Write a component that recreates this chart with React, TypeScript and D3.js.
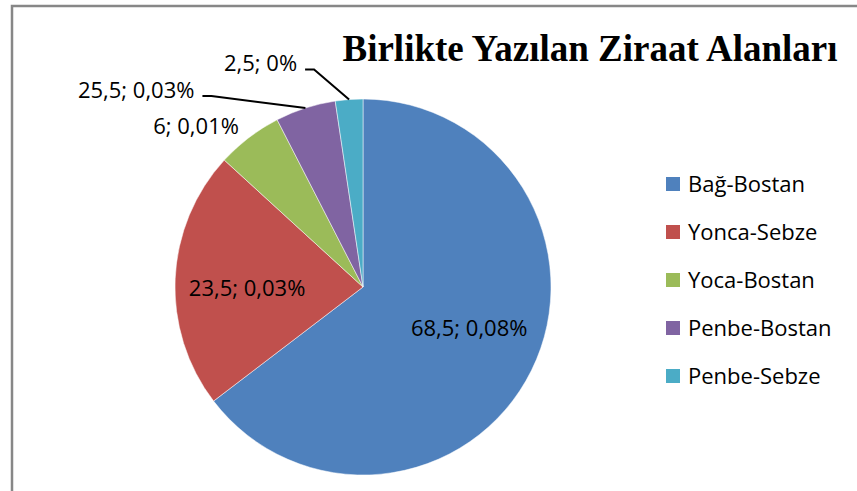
import React, { useEffect, useRef } from "react";
import * as d3 from "d3";

const categories = ["Bağ-Bostan", "Yonca-Sebze", "Yoca-Bostan", "Penbe-Bostan", "Penbe-Sebze"];
const values = [68.5, 23.5, 6, 5.5, 2.5];
const labels = ["68,5; 0,08%", "23,5; 0,03%", "6; 0,01%", "25,5; 0,03%", "2,5; 0%"];
const colors = ["#4F81BD", "#C0504D", "#9BBB59", "#8064A2", "#4BACC6"];
const title = "Birlikte Yazılan Ziraat Alanları";

const width = 857;
const height = 491;

export default function App() {
  const ref = useRef<SVGSVGElement>(null);

  useEffect(() => {
    const svg = d3.select(ref.current);
    svg.selectAll("*").remove();

    const cx = 363;
    const cy = 287;
    const r = 188;
    const labelFont = "'Open Sans', 'DejaVu Sans', sans-serif";
    const fs = "22px";

    svg.append("rect").attr("width", width).attr("height", height).attr("fill", "#fff");
    // chart frame (runs off the right and bottom edges)
    svg.append("rect")
      .attr("x", 12).attr("y", 6)
      .attr("width", width + 20).attr("height", height + 20)
      .attr("fill", "none").attr("stroke", "#878787").attr("stroke-width", 2.5);

    const pie = d3.pie<number>().sort(null).value(d => d);
    const arcs = pie(values);
    const arc = d3.arc<d3.PieArcDatum<number>>().innerRadius(0).outerRadius(r);
    const inner = d3.arc<d3.PieArcDatum<number>>().innerRadius(114).outerRadius(114);
    const edge = d3.arc<d3.PieArcDatum<number>>().innerRadius(r).outerRadius(r);

    const g = svg.append("g").attr("transform", `translate(${cx},${cy})`);
    g.selectAll("path").data(arcs).enter().append("path")
      .attr("d", arc)
      .attr("fill", (d, i) => colors[i])
      .attr("stroke", "#fff").attr("stroke-width", 0.5);

    // labels inside the two big slices (small nudges to match Excel placement)
    const nudge: [number, number][] = [[4, -2], [-2, 14]];
    arcs.slice(0, 2).forEach((d, i) => {
      const [x, y] = inner.centroid(d);
      g.append("text")
        .attr("x", x + nudge[i][0]).attr("y", y + nudge[i][1])
        .attr("text-anchor", "middle")
        .style("font-family", labelFont).style("font-size", fs)
        .attr("fill", "#000")
        .text(labels[i]);
    });

    // outer labels: green has no leader, purple & cyan have leaders
    const elbow: Record<number, [number, number]> = { 3: [-94, -12], 4: [-35, -30] };
    arcs.slice(2).forEach((d, k) => {
      const i = k + 2;
      const [ex, ey] = edge.centroid(d);
      if (elbow[i]) {
        const bx = ex + elbow[i][0];
        const by = ey + elbow[i][1];
        g.append("path")
          .attr("d", `M${ex},${ey}L${bx},${by}L${bx - 9},${by}`)
          .attr("fill", "none").attr("stroke", "#000").attr("stroke-width", 2);
        g.append("text")
          .attr("x", bx - 17).attr("y", by + 1.5)
          .attr("text-anchor", "end")
          .style("font-family", labelFont).style("font-size", fs)
          .text(labels[i]);
      } else {
        g.append("text")
          .attr("x", ex - 10).attr("y", ey - 4)
          .attr("text-anchor", "end")
          .style("font-family", labelFont).style("font-size", fs)
          .text(labels[i]);
      }
    });

    svg.append("text")
      .attr("x", 590).attr("y", 61)
      .attr("text-anchor", "middle")
      .style("font-family", "'Liberation Serif', 'Times New Roman', serif")
      .style("font-weight", "bold").style("font-size", "37px")
      .text(title);

    const legend = svg.append("g").attr("transform", "translate(666,184)");
    const row = d3.scalePoint<string>().domain(categories).range([0, 192]);
    const items = legend.selectAll("g").data(categories).enter().append("g")
      .attr("transform", d => `translate(0,${row(d)})`);
    items.append("rect")
      .attr("x", 0).attr("y", -7).attr("width", 14).attr("height", 14)
      .attr("fill", (d, i) => colors[i]);
    items.append("text")
      .attr("x", 22).attr("dy", "0.35em")
      .style("font-family", labelFont).style("font-size", fs)
      .text(d => d);
  }, []);

  return (
    <svg ref={ref} width={width} height={height}
      style={{ position: "absolute", left: 0, top: 0, display: "block" }} />
  );
}
